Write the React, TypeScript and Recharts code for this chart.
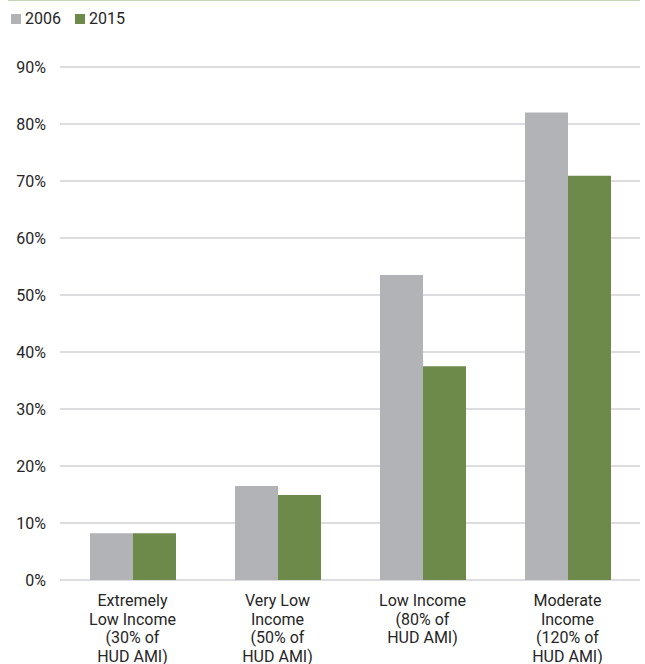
import { BarChart, Bar, XAxis, YAxis, CartesianGrid } from 'recharts';

const categories = [
  ['Extremely', 'Low Income', '(30% of', 'HUD AMI)'],
  ['Very Low', 'Income', '(50% of', 'HUD AMI)'],
  ['Low Income', '(80% of', 'HUD AMI)'],
  ['Moderate', 'Income', '(120% of', 'HUD AMI)'],
];
const share2006 = [8.2, 16.5, 53.5, 82];
const share2015 = [8.2, 14.9, 37.5, 70.9];
const yTicks = [0, 10, 20, 30, 40, 50, 60, 70, 80, 90];

const GRAY = '#b2b3b7';
const GREEN = '#6e8a4a';
const TEXT = '#262626';
const FONT = 'Roboto, "Noto Sans", sans-serif';

const data = categories.map((lines, i) => ({
  name: lines.join(' '),
  y2006: share2006[i],
  y2015: share2015[i],
}));

// multi-line category label under each group
function CategoryTick(props: any) {
  const { x, y, index } = props;
  const lines = categories[index] || [];
  return (
    <text x={x} y={y} textAnchor="middle" fill={TEXT} fontSize={16} fontFamily={FONT}>
      {lines.map((l, i) => (
        <tspan key={i} x={x} dy={i === 0 ? 18 : 18.5}>
          {l}
        </tspan>
      ))}
    </text>
  );
}

function LegendItem({ color, label }: { color: string; label: string }) {
  return (
    <div style={{ display: 'flex', alignItems: 'center', marginRight: 14 }}>
      <div style={{ width: 10, height: 10, background: color, marginRight: 4 }} />
      <span style={{ fontSize: 16, color: TEXT, fontFamily: FONT }}>{label}</span>
    </div>
  );
}

export default function App() {
  return (
    <div style={{ position: 'absolute', left: 0, top: 0, width: 645, height: 664, background: '#fff' }}>
      <div style={{ position: 'absolute', left: 8, top: 0, width: 632, height: 1, background: '#c7d3b8' }} />
      <div style={{ position: 'absolute', left: 11, top: 9, display: 'flex' }}>
        <LegendItem color={GRAY} label="2006" />
        <LegendItem color={GREEN} label="2015" />
      </div>
      <BarChart
        width={645}
        height={664}
        data={data}
        margin={{ top: 67, right: 5, bottom: 0, left: 0 }}
        barCategoryGap={30}
        barGap={0}
      >
        <CartesianGrid vertical={false} stroke="#d2d2d4" strokeWidth={1.5} />
        <XAxis
          dataKey="name"
          height={84}
          axisLine={false}
          tickLine={false}
          interval={0}
          tick={<CategoryTick />}
        />
        <YAxis
          width={60}
          domain={[0, 90]}
          ticks={yTicks}
          axisLine={false}
          tickLine={false}
          tickMargin={8}
          tickFormatter={(v) => `${v}%`}
          tick={{ fill: TEXT, fontSize: 16, fontFamily: FONT }}
        />
        <Bar dataKey="y2006" fill={GRAY} isAnimationActive={false} />
        <Bar dataKey="y2015" fill={GREEN} isAnimationActive={false} />
      </BarChart>
    </div>
  );
}
